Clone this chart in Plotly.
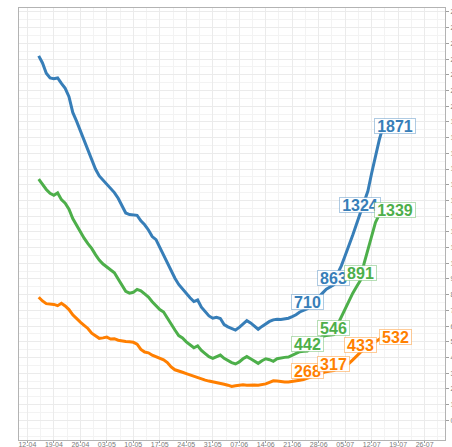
import pandas as pd
import plotly.graph_objects as go

# Daily series, 15-04 to 15-07
start_date = "2020-04-15"
n_days = 92

blue_values = [
    2320, 2275, 2210, 2180, 2175, 2180, 2145, 2114, 2060, 1960,
    1905, 1845, 1785, 1725, 1660, 1600, 1556, 1530, 1505, 1480,
    1450, 1414, 1365, 1320, 1310, 1308, 1305, 1270, 1245, 1212,
    1170, 1150, 1100, 1060, 1010, 955, 905, 865, 835, 812,
    780, 756, 766, 720, 690, 665, 650, 656, 648, 610,
    595, 585, 575, 592, 615, 635, 620, 598, 580, 598,
    614, 630, 640, 644, 642, 644, 650, 660, 672, 690,
    700, 710, 735, 762, 785, 810, 835, 850, 863, 935,
    985, 1050, 1110, 1180, 1250, 1324, 1390, 1460, 1575, 1690,
    1785, 1871,
]
green_values = [
    1535, 1500, 1470, 1445, 1433, 1448, 1405, 1382, 1345, 1285,
    1240, 1195, 1160, 1125, 1095, 1055, 1020, 995, 975, 958,
    940, 900, 860, 822, 810, 815, 834, 825, 805, 785,
    755, 730, 705, 690, 650, 610, 575, 540, 525, 500,
    480, 462, 474, 445, 425, 405, 395, 406, 416, 395,
    380, 368, 359, 372, 392, 406, 392, 375, 363, 380,
    392, 386, 376, 392, 398, 401, 403, 415, 428, 437,
    440, 442, 465, 490, 515, 535, 540, 544, 546, 610,
    660, 720, 770, 810, 850, 891, 1000, 1090, 1180, 1260,
    1310, 1339,
]
orange_values = [
    784, 760, 743, 740, 738, 730, 745, 728, 705, 672,
    645, 625, 605, 585, 555, 538, 522, 525, 530, 518,
    520, 510, 505, 502, 500, 497, 485, 452, 435, 430,
    415, 405, 398, 385, 368, 340, 322, 312, 306, 298,
    289, 282, 276, 265, 256, 250, 246, 240, 236, 230,
    224, 216, 220, 225, 226, 224, 226, 225, 224, 226,
    232, 242, 252, 250, 246, 244, 245, 250, 254, 256,
    260, 268, 275, 285, 295, 302, 310, 314, 317, 330,
    342, 352, 362, 385, 410, 433, 452, 468, 482, 498,
    515, 532,
]

label_dates = ["2020-06-25", "2020-07-02", "2020-07-09", "2020-07-15"]
blue_labels = [710, 863, 1324, 1871]
green_labels = [442, 546, 891, 1339]
orange_labels = [268, 317, 433, 532]

tick_dates = pd.date_range("2020-04-12", "2020-07-26", freq="7D")
tick_text = [d.strftime("%d-%m") for d in tick_dates]
y_ticks = list(range(0, 2700, 100))

dates = pd.date_range(start_date, periods=n_days, freq="D")

series = [
    ("Serie A", blue_values, blue_labels, "#377eb8", "rgba(55,126,184,0.4)"),
    ("Serie B", green_values, green_labels, "#4daf4a", "rgba(77,175,74,0.4)"),
    ("Serie C", orange_values, orange_labels, "#ff7f00", "rgba(255,127,0,0.4)"),
]

fig = go.Figure()
for name, vals, _, col, _ in series:
    fig.add_trace(go.Scatter(x=dates, y=vals, mode="lines", name=name,
                             line=dict(color=col, width=3), hoverinfo="x+y"))

annotations = []
for name, vals, labs, col, bcol in series:
    for i, (d, v) in enumerate(zip(label_dates, labs)):
        last = i == len(labs) - 1
        annotations.append(dict(
            x=d, y=v, text=str(v), showarrow=False,
            font=dict(family="Liberation Sans, Arial", size=16, color=col, weight="bold"),
            bgcolor="rgba(255,255,255,0.95)", bordercolor=bcol, borderwidth=1, borderpad=0,
            width=9 * len(str(v)) + 4, height=14,
            xshift=12 if last else 0, yshift=0 if last else 7,
        ))

fig.update_layout(
    width=452, height=447,
    margin=dict(l=19, r=7, t=8, b=7),
    paper_bgcolor="white", plot_bgcolor="white",
    showlegend=False,
    annotations=annotations,
    font=dict(family="Liberation Sans, Arial"),
)
fig.update_xaxes(
    type="date", automargin=False, ticklabeloverflow="allow",
    range=["2020-04-09 19:00", "2020-07-31 09:00"],
    tickvals=list(tick_dates), ticktext=tick_text,
    ticks="outside", ticklen=2, tickcolor="#a0a0a0", ticklabelstandoff=-4,
    tickfont=dict(size=7, color="#7a7a7a"),
    showgrid=True, gridcolor="#ebebeb", gridwidth=1,
    minor=dict(dtick=3.5 * 86400000, tick0="2020-04-12", showgrid=True,
               gridcolor="#f3f3f3", gridwidth=1),
    showline=True, linecolor="#b3b3b3", linewidth=1, mirror=True,
    zeroline=False,
)
fig.update_yaxes(
    side="right", automargin=False, ticklabeloverflow="allow",
    range=[-125, 2625],
    tickmode="array", tickvals=y_ticks, ticktext=[str(t) for t in y_ticks],
    ticks="outside", ticklen=3, tickcolor="#a0a0a0",
    tickfont=dict(size=7, color="#7a7a7a"),
    showgrid=True, gridcolor="#ebebeb", gridwidth=1,
    minor=dict(dtick=50, tick0=-100, showgrid=True, gridcolor="#f3f3f3", gridwidth=1),
    showline=True, linecolor="#b3b3b3", linewidth=1, mirror=True,
    zeroline=False,
)

fig.write_html("out.html", config={"displayModeBar": False},
               post_script="document.body.style.margin='0';document.body.style.overflow='hidden';")
